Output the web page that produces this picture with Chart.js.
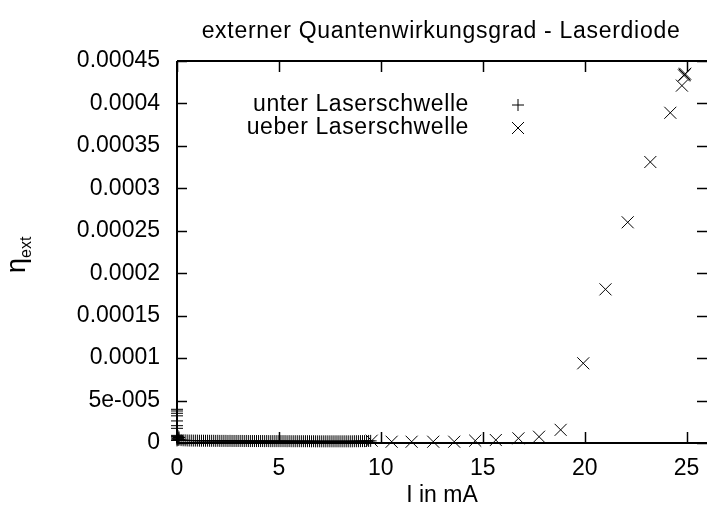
<!DOCTYPE html>
<html><head><meta charset="utf-8">
<script src="https://cdn.jsdelivr.net/npm/chart.js@4/dist/chart.umd.min.js"></script>
<style>html,body{margin:0;padding:0;background:#fff;}#wrap{width:707px;height:514px;}</style>
</head><body><div id="wrap"><canvas id="c" width="707" height="514"></canvas></div>
<script>
const chartTitle = 'externer Quantenwirkungsgrad - Laserdiode';
const xAxisTitle = 'I in mA';
const yAxisSymbol = 'η';
const yAxisSub = 'ext';
const seriesNames = ['unter Laserschwelle', 'ueber Laserschwelle'];

const underX = [0,0,0,0,0,0,0,0,0,0,0,0,0.05,0.05,0.05,0.1,0.1,
0.2,0.3,0.4,0.5,0.6,0.7,0.8,0.9,1.0,1.1,
1.2,1.3,1.4,1.5,1.6,1.7,1.8,1.9,2.0,2.1,
2.2,2.3,2.4,2.5,2.6,2.7,2.8,2.9,3.0,3.1,
3.2,3.3,3.4,3.5,3.6,3.7,3.8,3.9,4.0,4.1,
4.2,4.3,4.4,4.5,4.6,4.7,4.8,4.9,5.0,5.1,
5.2,5.3,5.4,5.5,5.6,5.7,5.8,5.9,6.0,6.1,
6.2,6.3,6.4,6.5,6.6,6.7,6.8,6.9,7.0,7.1,
7.2,7.3,7.4,7.5,7.6,7.7,7.8,7.9,8.0,8.1,
8.2,8.3,8.4,8.5,8.6,8.7,8.8,8.9,9.0,9.1,
9.2,9.3,9.4,9.5];
const underY = [3.97e-5,3.77e-5,3.5e-5,3.2e-5,2.6e-5,2.04e-5,1.73e-5,9e-6,7.5e-6,6e-6,4.5e-6,3e-6,8e-6,5.5e-6,3.5e-6,6.5e-6,4e-6,
3.4e-6,3.2e-6,3.1e-6,3.0e-6,2.9e-6,2.9e-6,2.8e-6,2.8e-6,2.8e-6,2.7e-6,
2.7e-6,2.7e-6,2.6e-6,2.7e-6,2.6e-6,2.6e-6,2.6e-6,2.5e-6,2.6e-6,2.5e-6,
2.5e-6,2.5e-6,2.5e-6,2.4e-6,2.5e-6,2.4e-6,2.4e-6,2.4e-6,2.4e-6,2.4e-6,
2.4e-6,2.3e-6,2.4e-6,2.3e-6,2.3e-6,2.3e-6,2.3e-6,2.3e-6,2.3e-6,2.3e-6,
2.3e-6,2.2e-6,2.3e-6,2.2e-6,2.2e-6,2.2e-6,2.2e-6,2.2e-6,2.2e-6,2.2e-6,
2.2e-6,2.2e-6,2.1e-6,2.2e-6,2.1e-6,2.1e-6,2.1e-6,2.1e-6,2.1e-6,2.1e-6,
2.1e-6,2.1e-6,2.1e-6,2.1e-6,2.0e-6,2.1e-6,2.0e-6,2.0e-6,2.0e-6,2.0e-6,
2.0e-6,2.0e-6,2.0e-6,2.0e-6,2.0e-6,2.0e-6,2.0e-6,2.0e-6,2.0e-6,2.0e-6,
2.0e-6,2.0e-6,2.0e-6,2.0e-6,2.0e-6,2.1e-6,2.1e-6,2.1e-6,2.2e-6,2.2e-6,
2.2e-6,2.3e-6,2.4e-6,2.5e-6];

const overX = [9.55,10.53,11.51,12.57,13.6,14.63,15.64,16.75,17.76,18.82,19.93,21.02,22.11,23.22,24.2,24.77,24.87,24.9,24.93];
const overY = [2.7e-6,1.5e-6,1.5e-6,1.5e-6,1.5e-6,2.7e-6,3.5e-6,5.5e-6,7.4e-6,1.55e-5,9.39e-5,1.81e-4,2.60e-4,3.31e-4,3.89e-4,4.21e-4,4.33e-4,4.34e-4,4.35e-4];

const xTicks = [0,5,10,15,20,25];
const xTickLabels = ['0','5','10','15','20','25'];
const yTicks = [0,0.00005,0.0001,0.00015,0.0002,0.00025,0.0003,0.00035,0.0004,0.00045];
const yTickLabels = ['0','5e-005','0.0001','0.00015','0.0002','0.00025','0.0003','0.00035','0.0004','0.00045'];

const FONT = '"Liberation Sans", Arial, sans-serif';
const pointStyles = ['cross', 'crossRot'];
const pointRadii = [6, 8.5];

function seg(ctx, x1, y1, x2, y2) {
  ctx.beginPath();
  ctx.moveTo(x1, y1);
  ctx.lineTo(x2, y2);
  ctx.stroke();
}

const boxPlugin = {
  id: 'gpbox',
  afterDraw(chart) {
    const ctx = chart.ctx;
    const xs = chart.scales.x, ys = chart.scales.y;
    const L = xs.getPixelForValue(xs.min), R = xs.getPixelForValue(xs.max);
    const T = ys.getPixelForValue(ys.max), B = ys.getPixelForValue(ys.min);
    ctx.save();
    ctx.setLineDash([]);
    ctx.globalAlpha = 1;
    ctx.globalCompositeOperation = 'source-over';
    ctx.strokeStyle = 'rgb(0,0,0)';
    ctx.lineWidth = 2;
    seg(ctx, L, T, R + 2, T);
    seg(ctx, L, B, R + 2, B);
    seg(ctx, L, T, L, B);
    ctx.lineWidth = 1.5;
    xTicks.forEach(v => {
      const px = Math.round(xs.getPixelForValue(v)) + 0.5;
      seg(ctx, px, B, px, B - 11);
      seg(ctx, px, T, px, T + 11);
    });
    yTicks.forEach(v => {
      const py = Math.round(ys.getPixelForValue(v)) + 0.5;
      seg(ctx, L, py, L + 10, py);
      seg(ctx, R + 1, py, R - 10, py);
    });

    ctx.fillStyle = '#000';
    // title
    ctx.font = '23px ' + FONT;
    ctx.letterSpacing = '0.7px';
    ctx.textAlign = 'center';
    ctx.textBaseline = 'middle';
    ctx.fillText(chartTitle, (L + R) / 2 - 1, 32);
    ctx.letterSpacing = '0px';
    // y axis title
    ctx.save();
    ctx.translate(25, 273);
    ctx.rotate(-Math.PI / 2);
    ctx.textAlign = 'left';
    ctx.textBaseline = 'alphabetic';
    ctx.font = '27px ' + FONT;
    ctx.fillText(yAxisSymbol, 0, 0);
    const w = ctx.measureText(yAxisSymbol).width;
    ctx.font = '16px ' + FONT;
    ctx.fillText(yAxisSub, w, 6);
    ctx.restore();
    // legend
    ctx.font = '23px ' + FONT;
    ctx.letterSpacing = '0.6px';
    ctx.textAlign = 'right';
    ctx.textBaseline = 'middle';
    const rows = [105, 128];
    ctx.lineWidth = 1;
    chart.data.datasets.forEach((ds, i) => {
      ctx.fillText(ds.label, 469, rows[i]);
      const cx = 518, cy = rows[i];
      if (ds.pointStyle === 'cross') {
        seg(ctx, cx - 6, cy, cx + 6, cy);
        seg(ctx, cx, cy - 6, cx, cy + 6);
      } else {
        seg(ctx, cx - 6, cy - 6, cx + 6, cy + 6);
        seg(ctx, cx - 6, cy + 6, cx + 6, cy - 6);
      }
    });
    ctx.letterSpacing = '0px';
    ctx.restore();
  }
};

new Chart(document.getElementById('c'), {
  type: 'scatter',
  data: {
    datasets: [
      {
        label: seriesNames[0],
        data: underX.map((x, i) => ({x, y: underY[i]})),
        pointStyle: pointStyles[0], pointRadius: pointRadii[0],
        borderColor: '#000', backgroundColor: '#000', borderWidth: 1,
        showLine: false, clip: false
      },
      {
        label: seriesNames[1],
        data: overX.map((x, i) => ({x, y: overY[i]})),
        pointStyle: pointStyles[1], pointRadius: pointRadii[1],
        borderColor: '#000', backgroundColor: '#000', borderWidth: 1,
        showLine: false, clip: false
      }
    ]
  },
  options: {
    responsive: false,
    animation: false,
    layout: { autoPadding: false, padding: { top: 61, left: 0, right: 0, bottom: 0 } },
    plugins: { legend: { display: false }, title: { display: false }, tooltip: { enabled: false } },
    scales: {
      x: {
        type: 'linear', min: 0, max: 26,
        afterBuildTicks: s => { s.ticks = xTicks.map(v => ({value: v})); },
        afterFit: s => { s.height = 71; s.paddingLeft = 0; s.paddingRight = 0; },
        grid: { display: false, drawTicks: false },
        border: { display: false },
        ticks: {
          autoSkip: false, maxRotation: 0, padding: 12, color: '#000',
          font: { family: FONT, size: 23 },
          callback: v => xTickLabels[xTicks.indexOf(v)]
        },
        title: { display: true, text: xAxisTitle, color: '#000', font: { family: FONT, size: 23 }, padding: { top: 0, bottom: 5 } }
      },
      y: {
        type: 'linear', min: 0, max: 0.00045,
        afterBuildTicks: s => { s.ticks = yTicks.map(v => ({value: v})); },
        afterFit: s => { s.width = 177; s.paddingTop = 0; s.paddingBottom = 0; },
        grid: { display: false, drawTicks: false },
        border: { display: false },
        ticks: {
          autoSkip: false, padding: 17, color: '#000',
          font: { family: FONT, size: 23 },
          callback: v => yTickLabels[yTicks.indexOf(v)]
        }
      }
    }
  },
  plugins: [boxPlugin]
});
</script></body></html>
